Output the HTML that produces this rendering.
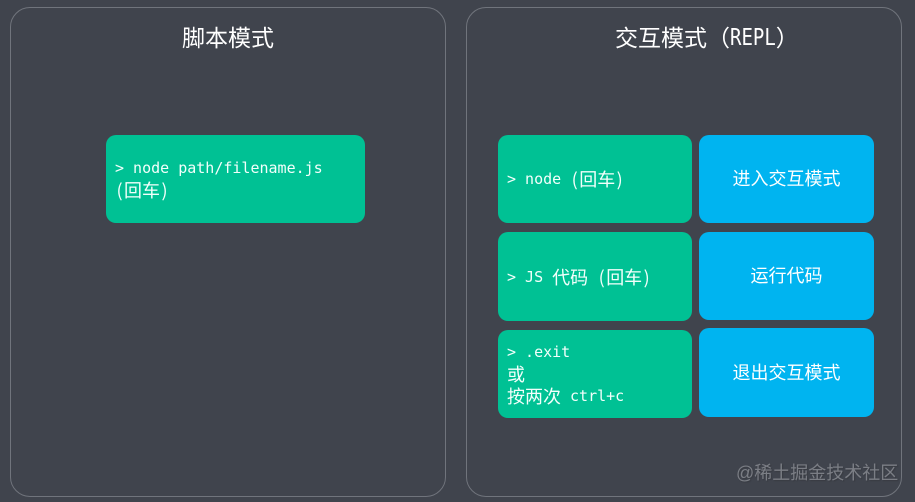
<!DOCTYPE html>
<html><head><meta charset="utf-8"><style>
html,body{margin:0;padding:0;background:#40444d}
body{width:915px;height:502px;position:relative;overflow:hidden;font-family:"Liberation Sans","Noto Sans CJK SC",sans-serif}
div{position:absolute;box-sizing:border-box}
.p{top:6.5px;width:436px;height:490px;border:1px solid #70747c;border-radius:20px}
.t{color:#fff;font-size:23px;line-height:32px;white-space:pre}
.t i{font-style:normal;font-family:"DejaVu Sans Mono",monospace;font-size:19px;display:inline-block;transform:scale(1,1.22);transform-origin:50% 80%}
.g{background:#00c194;border-radius:10px}
.b{background:#00b4f0;border-radius:10px;color:#fff;font-size:18px;display:flex;align-items:center;justify-content:center;padding-bottom:2px}
.l{color:#f2fffb;font-size:15px;line-height:22px;white-space:pre;font-family:"DejaVu Sans Mono","Noto Sans CJK SC",monospace}
.l b{font-weight:400;font-size:18px;font-family:"Noto Sans CJK SC",sans-serif;position:relative;top:2px}
.l u{text-decoration:none;display:inline-block;width:9px;text-align:center;font-size:18px;font-family:"Noto Sans CJK SC",sans-serif;position:relative;top:2px}
</style></head><body>
<div class="p" style="left:10px"></div>
<div class="p" style="left:466px"></div>
<div class="t" style="left:182px;top:22px">脚本模式</div>
<div class="t" style="left:615px;top:22px">交互模式（<i>REPL</i>）</div>
<div class="g" style="left:106px;top:135px;width:259px;height:88px"></div>
<div class="l" style="left:115px;top:157px">&gt; node path/filename.js</div>
<div class="l" style="left:115px;top:177px"><u>(</u><b>回车</b><u>)</u></div>
<div class="g" style="left:498px;top:135px;width:194px;height:88px"></div>
<div class="l" style="left:507px;top:166px">&gt; node <u>(</u><b>回车</b><u>)</u></div>
<div class="g" style="left:498px;top:232px;width:194px;height:89px"></div>
<div class="l" style="left:507px;top:264px">&gt; JS <b>代码</b> <u>(</u><b>回车</b><u>)</u></div>
<div class="g" style="left:498px;top:330px;width:194px;height:88px"></div>
<div class="l" style="left:507px;top:341px">&gt; .exit</div>
<div class="l" style="left:507px;top:361px"><b>或</b></div>
<div class="l" style="left:507px;top:383px"><b>按两次</b> ctrl+c</div>
<div class="b" style="left:699px;top:135px;width:175px;height:88px">进入交互模式</div>
<div class="b" style="left:699px;top:232px;width:175px;height:88px">运行代码</div>
<div class="b" style="left:699px;top:328px;width:175px;height:89px">退出交互模式</div>
<div style="left:736px;top:460px;font-size:18px;line-height:26px;color:#7b7e85;white-space:pre;text-shadow:1px 1px 1px #383b42">@稀土掘金技术社区</div>
</body></html>
